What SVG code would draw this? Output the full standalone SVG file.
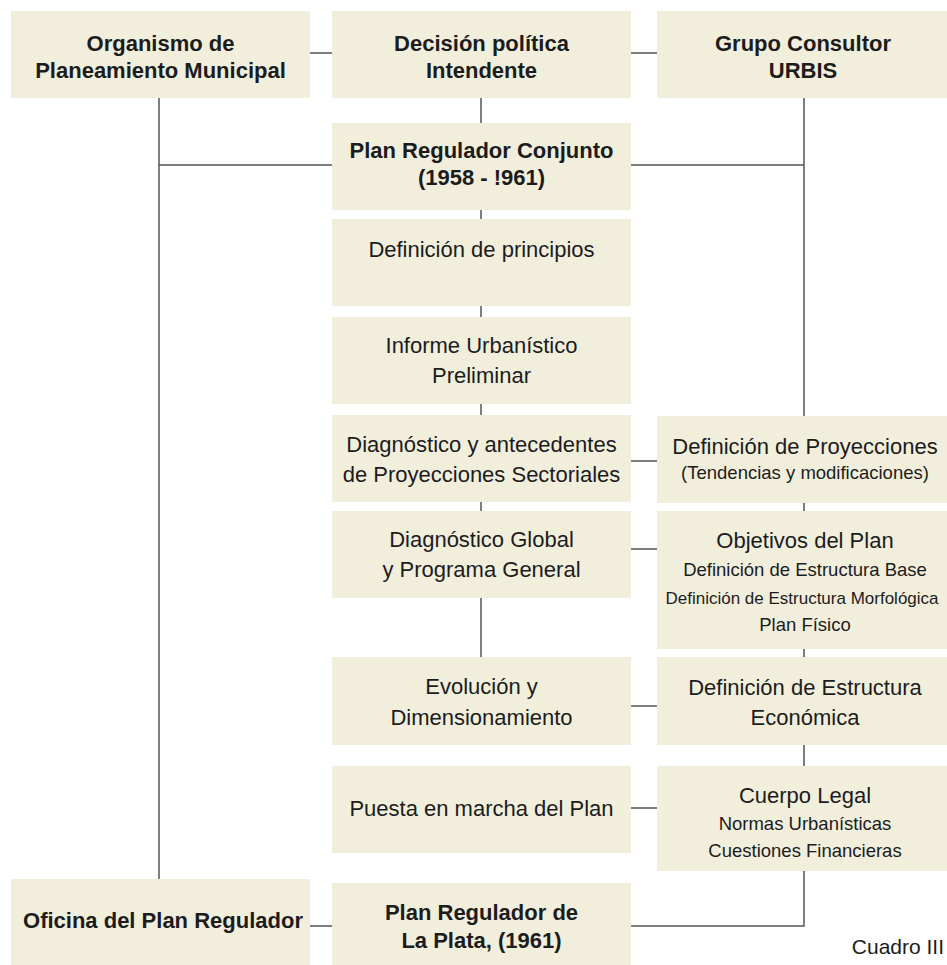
<svg xmlns="http://www.w3.org/2000/svg" width="947" height="965" viewBox="0 0 947 965">
  <style>
    .box { fill: #f1eedc; }
    .lbl { font-family: "Liberation Sans", Arial, sans-serif; fill: #1c1c1c; text-anchor: middle; }
    .b { font-weight: bold; font-size: 22px; }
    .r { font-size: 22px; }
    .s { font-size: 18.5px; }
    .link { stroke: #555; stroke-width: 1.5; fill: none; }
  </style>
  <rect width="947" height="965" fill="#ffffff"/>

  <!-- connectors -->
  <g id="connectors">
    <!-- top row -->
    <path class="link" d="M310 53 H332"/>
    <path class="link" d="M631 53 H657"/>
    <!-- left spine: planning office down to the plan office -->
    <path class="link" d="M159 98 V879"/>
    <path class="link" d="M159 165 H332"/>
    <!-- centre column -->
    <path class="link" d="M481 98 V123"/>
    <path class="link" d="M481 210 V219"/>
    <path class="link" d="M481 306 V317"/>
    <path class="link" d="M481 404 V415"/>
    <path class="link" d="M481 502 V511"/>
    <path class="link" d="M481 598 V657"/>
    <!-- right spine: consultant group -->
    <path class="link" d="M804 98 V416"/>
    <path class="link" d="M631 165 H804"/>
    <path class="link" d="M804 503 V511"/>
    <path class="link" d="M804 649 V657"/>
    <path class="link" d="M804 745 V766"/>
    <path class="link" d="M804 871 V926 H631"/>
    <!-- centre to right -->
    <path class="link" d="M631 461 H657"/>
    <path class="link" d="M631 549 H657"/>
    <path class="link" d="M631 706 H657"/>
    <path class="link" d="M631 808 H657"/>
    <!-- bottom row -->
    <path class="link" d="M310 926 H332"/>
  </g>

  <g id="organismo">
    <rect class="box" x="11" y="11" width="299" height="87"/>
    <text class="lbl b" x="160.5" y="51">Organismo de</text>
    <text class="lbl b" x="160.5" y="78">Planeamiento Municipal</text>
  </g>

  <g id="decision">
    <rect class="box" x="332" y="11" width="299" height="87"/>
    <text class="lbl b" x="481.5" y="51">Decisión política</text>
    <text class="lbl b" x="481.5" y="78">Intendente</text>
  </g>

  <g id="grupo-consultor">
    <rect class="box" x="657" y="11" width="290" height="87"/>
    <text class="lbl b" x="803" y="51">Grupo Consultor</text>
    <text class="lbl b" x="803" y="78">URBIS</text>
  </g>

  <g id="plan-conjunto">
    <rect class="box" x="332" y="123" width="299" height="87"/>
    <text class="lbl b" x="481.5" y="158">Plan Regulador Conjunto</text>
    <text class="lbl b" x="481.5" y="185">(1958 - !961)</text>
  </g>

  <g id="principios">
    <rect class="box" x="332" y="219" width="299" height="87"/>
    <text class="lbl r" x="481.5" y="257">Definición de principios</text>
  </g>

  <g id="informe">
    <rect class="box" x="332" y="317" width="299" height="87"/>
    <text class="lbl r" x="481.5" y="353">Informe Urbanístico</text>
    <text class="lbl r" x="481.5" y="383">Preliminar</text>
  </g>

  <g id="diagnostico-sectorial">
    <rect class="box" x="332" y="415" width="299" height="87"/>
    <text class="lbl r" x="481.5" y="452">Diagnóstico y antecedentes</text>
    <text class="lbl r" x="481.5" y="482">de Proyecciones Sectoriales</text>
  </g>

  <g id="proyecciones">
    <rect class="box" x="657" y="416" width="290" height="87"/>
    <text class="lbl r" x="805" y="454">Definición de Proyecciones</text>
    <text class="lbl s" x="805" y="479">(Tendencias y modificaciones)</text>
  </g>

  <g id="diagnostico-global">
    <rect class="box" x="332" y="511" width="299" height="87"/>
    <text class="lbl r" x="481.5" y="547">Diagnóstico Global</text>
    <text class="lbl r" x="481.5" y="577">y Programa General</text>
  </g>

  <g id="objetivos">
    <rect class="box" x="657" y="511" width="290" height="138"/>
    <text class="lbl r" x="805" y="548">Objetivos del Plan</text>
    <text class="lbl s" x="805" y="576">Definición de Estructura Base</text>
    <text class="lbl" x="802" y="604" style="font-size:17px">Definición de Estructura Morfológica</text>
    <text class="lbl s" x="805" y="631">Plan Físico</text>
  </g>

  <g id="evolucion">
    <rect class="box" x="332" y="657" width="299" height="88"/>
    <text class="lbl r" x="481.5" y="694">Evolución y</text>
    <text class="lbl r" x="481.5" y="725">Dimensionamiento</text>
  </g>

  <g id="estructura-economica">
    <rect class="box" x="657" y="657" width="290" height="88"/>
    <text class="lbl r" x="805" y="695">Definición de Estructura</text>
    <text class="lbl r" x="805" y="725">Económica</text>
  </g>

  <g id="puesta-en-marcha">
    <rect class="box" x="332" y="766" width="299" height="87"/>
    <text class="lbl r" x="481.5" y="816">Puesta en marcha del Plan</text>
  </g>

  <g id="cuerpo-legal">
    <rect class="box" x="657" y="766" width="290" height="105"/>
    <text class="lbl r" x="805" y="803">Cuerpo Legal</text>
    <text class="lbl s" x="805" y="830">Normas Urbanísticas</text>
    <text class="lbl s" x="805" y="857">Cuestiones Financieras</text>
  </g>

  <g id="oficina">
    <rect class="box" x="11" y="879" width="299" height="86"/>
    <text class="lbl b" x="163" y="928">Oficina del Plan Regulador</text>
  </g>

  <g id="plan-la-plata">
    <rect class="box" x="332" y="883" width="299" height="82"/>
    <text class="lbl b" x="481.5" y="920">Plan Regulador de</text>
    <text class="lbl b" x="481.5" y="948">La Plata, (1961)</text>
  </g>

  <text class="lbl" x="944" y="954" style="font-size:21px; text-anchor:end">Cuadro III</text>
</svg>
